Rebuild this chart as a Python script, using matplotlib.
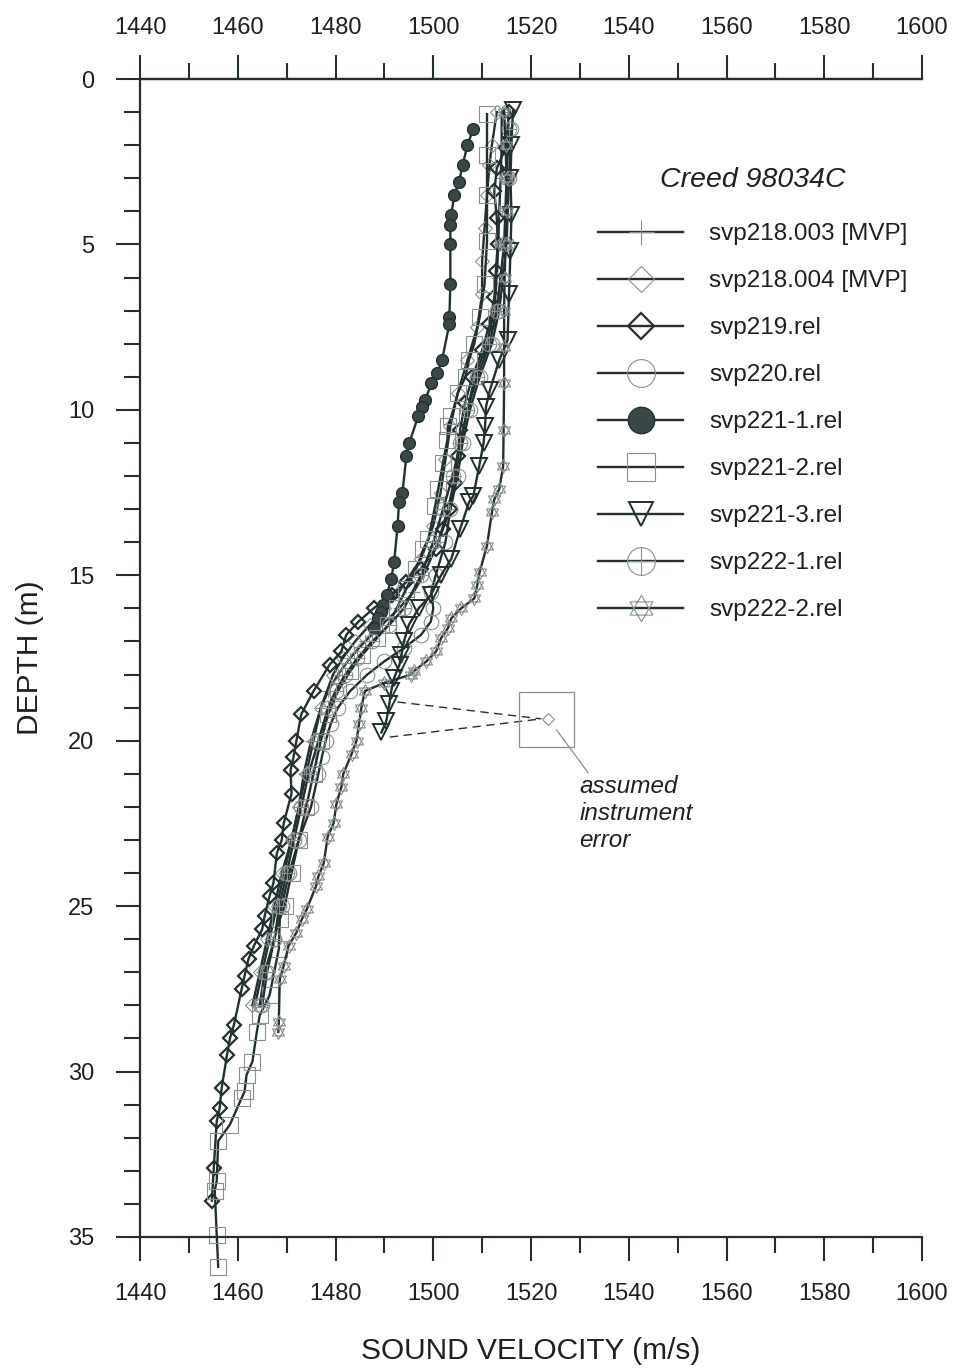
import matplotlib
matplotlib.use('Agg')
import matplotlib.pyplot as plt
from matplotlib.path import Path
from matplotlib.lines import Line2D
from matplotlib.patches import Rectangle
from matplotlib.ticker import MultipleLocator

plt.rcParams['font.family'] = ['Liberation Sans', 'DejaVu Sans']

# ---------------- data (depth m, velocity m/s) ----------------
x_major = [1440, 1460, 1480, 1500, 1520, 1540, 1560, 1580, 1600]
x_minor = [1450, 1470, 1490, 1510, 1530, 1550, 1570, 1590]

d_218_003 = [1.0, 2.0, 3.0, 4.0, 5.0, 6.0, 7.0, 8.0, 9.0, 10.0, 11.0, 12.0, 13.0, 14.0, 15.0,
             15.5, 16.0, 16.5, 17.0, 17.5, 18.0, 18.5, 19.0, 20.0, 21.0, 22.0, 23.0, 24.0,
             25.0, 26.0, 27.0, 28.0]
v_218_003 = [1514, 1514, 1513.8, 1513.5, 1513.3, 1513, 1512.5, 1511, 1508.5, 1507, 1505.5, 1504.5,
             1503, 1501, 1498, 1496, 1493, 1489.5, 1486, 1483, 1480.5, 1478.5, 1477, 1475,
             1473.5, 1472.5, 1471, 1469.5, 1468, 1466.5, 1465, 1463.5]

d_218_004 = [1.0, 2.0, 2.6, 3.5, 4.5, 5.5, 6.5, 7.5, 8.5, 9.5, 10.5, 11.5, 12.5, 13.5, 14.5,
             15.5, 16.0, 16.5, 17.0, 17.5, 18.0, 19.0, 20.0, 21.0, 22.0, 23.0, 24.0, 25.0,
             26.0, 27.0, 28.0]
v_218_004 = [1513, 1512, 1511.5, 1511, 1510.5, 1510, 1510, 1509, 1507, 1505, 1503.5, 1502.5,
             1501.5, 1500, 1497.5, 1493, 1490, 1487, 1484, 1481.5, 1479.5, 1477, 1475.5,
             1474, 1472.5, 1471, 1469, 1467.5, 1466, 1464.5, 1463]

d_219 = [1.0, 2.1, 2.7, 3.4, 4.2, 5.0, 5.8, 6.6, 7.4, 8.2, 9.0, 9.8, 10.6, 11.4, 12.2, 13.0,
         13.6, 14.2, 14.8, 15.2, 15.6, 16.0, 16.4, 16.8, 17.3, 17.7, 18.5, 19.2, 20.0, 20.5,
         20.9, 21.6, 22.5, 23.0, 23.4, 24.3, 24.7, 25.3, 25.7, 26.2, 26.6, 27.1, 27.5, 28.6,
         29.0, 29.5, 30.5, 31.1, 31.5, 32.9, 33.9]
v_219 = [1515.5, 1514.8, 1513, 1512.5, 1513, 1513.2, 1512.8, 1512.5, 1511.5, 1510, 1508,
         1506.5, 1505.5, 1505, 1504.5, 1503.5, 1502, 1500.5, 1497.5, 1494.5, 1491.5, 1487.8,
         1484.7, 1482.2, 1481.2, 1478.8, 1475.5, 1473, 1472, 1471.4, 1470.8, 1471, 1469.4,
         1469, 1468, 1467.3, 1466.5, 1465.5, 1465, 1463.3, 1462.2, 1461.4, 1460.8, 1459.2,
         1458.4, 1457.8, 1456.7, 1456.3, 1455.7, 1455.1, 1454.7]

d_220 = [1.5, 3.0, 5.0, 7.0, 8.0, 9.0, 10.0, 11.0, 12.0, 13.0, 14.0, 15.0, 15.5, 16.0, 16.4,
         16.8, 17.2, 17.6, 18.0, 18.5, 19.0, 19.5, 20.0, 20.5, 21.0, 22.0, 23.0, 24.0, 25.0,
         26.0, 27.0, 28.0]
v_220 = [1516, 1515.5, 1515, 1513.5, 1512, 1509.5, 1507.5, 1506, 1505, 1503.5, 1502.5, 1500.5,
         1499.6, 1500, 1499.5, 1497.5, 1494, 1490, 1486.5, 1483, 1480.5, 1479, 1478, 1477.2,
         1476.5, 1475, 1472.5, 1470.5, 1469, 1467.5, 1465.5, 1464.5]

d_221_1 = [1.5, 2.0, 2.6, 3.1, 3.5, 4.1, 4.4, 5.0, 6.2, 7.2, 7.4, 8.5, 8.9, 9.2, 9.7, 9.9, 10.2,
           11.0, 11.4, 12.5, 12.8, 13.5, 14.6, 15.1, 15.6, 15.9, 16.1, 16.3, 16.6]
v_221_1 = [1508.2, 1507, 1506, 1505.3, 1504.3, 1503.7, 1503.5, 1503.5, 1503.5, 1503.3, 1503.3,
           1501.8, 1500.8, 1499.6, 1498.4, 1497.6, 1496.9, 1495.1, 1494.5, 1493.7, 1493,
           1492.7, 1492, 1491.4, 1490.5, 1489.8, 1489.3, 1488.7, 1487.8]

d_221_2 = [1.06, 2.3, 3.5, 4.9, 6.2, 7.2, 8.0, 8.5, 9.0, 9.5, 10.2, 10.5, 10.9, 11.6, 12.4, 12.9,
           13.9, 14.2, 14.8, 15.4, 16.0, 16.5, 16.9, 17.4, 17.9, 18.5, 19.2, 20.0, 21.0, 22.0,
           23.0, 24.0, 25.0, 25.4, 26.3, 27.7, 28.3, 28.8, 29.7, 30.1, 30.6, 30.8, 31.6, 32.1,
           33.3, 33.6, 34.95, 35.9]
v_221_2 = [1511, 1511, 1511, 1511, 1510.5, 1509.5, 1508.4, 1507.3, 1506.6, 1505, 1503.7, 1503,
           1502.9, 1502, 1501, 1500.4, 1499, 1498, 1496.5, 1494.5, 1492.5, 1490.8, 1488.5,
           1485.5, 1483, 1480.5, 1478.5, 1477, 1475.5, 1474, 1472.5, 1471, 1469.6, 1468.6,
           1468.4, 1466.5, 1464.5, 1463.9, 1463, 1461.8, 1461.4, 1460.8, 1458.4, 1456,
           1455.7, 1455.3, 1455.7, 1456]

d_221_3 = [0.95, 2.0, 3.0, 4.1, 5.2, 6.5, 7.9, 8.5, 9.4, 9.9, 10.5, 11.0, 11.7, 12.6, 12.8, 13.6,
           14.5, 15.0, 15.6, 16.0, 16.5, 17.0, 17.4, 17.7, 18.1, 18.5, 18.9, 19.4, 19.75]
v_221_3 = [1516.3, 1516, 1515.8, 1516, 1515.8, 1515.5, 1515.2, 1513.5, 1511.6, 1510.8, 1510.6,
           1510.3, 1509.4, 1508.2, 1507.3, 1505.5, 1503.7, 1501.6, 1499.5, 1497, 1495, 1494,
           1493.5, 1493.1, 1492, 1491.4, 1491.0, 1490.4, 1489.4]

d_222_1 = [1.5, 3.0, 5.0, 7.0, 8.0, 9.0, 10.0, 11.0, 12.0, 13.0, 14.0, 15.0, 16.0, 16.5, 17.0,
           17.5, 18.0, 18.5, 19.0, 20.0, 21.0, 22.0, 23.0, 24.0, 25.0, 26.0, 27.0, 28.0]
v_222_1 = [1515.5, 1515, 1514.5, 1513, 1511.5, 1509, 1507, 1505.5, 1504, 1502, 1500, 1497.5,
           1494, 1491, 1487.5, 1484.5, 1482, 1480, 1478.5, 1476.5, 1474.5, 1473, 1471.5,
           1470, 1468.5, 1467.5, 1466, 1465]

d_222_2 = [1.0, 2.0, 3.0, 4.0, 5.0, 6.0, 7.0, 8.1, 9.2, 10.6, 11.7, 12.4, 12.7, 13.1, 14.1, 14.9,
           15.3, 15.7, 16.0, 16.3, 16.6, 16.9, 17.3, 17.6, 17.9, 18.0, 18.25, 18.5, 19.0, 19.5,
           20.0, 20.4, 21.0, 21.4, 21.9, 22.5, 22.9, 23.7, 24.1, 24.4, 25.1, 25.4, 25.8, 26.2,
           26.8, 27.2, 28.5, 28.8]
v_222_2 = [1514.5, 1514.8, 1515, 1515, 1514.8, 1514.6, 1514.5, 1514.5, 1514.5, 1514.4, 1514.3,
           1513.5, 1512.5, 1512, 1511, 1509.5, 1509, 1508.4, 1505.7, 1503.7, 1503, 1501.6,
           1500.6, 1498.6, 1496, 1495.5, 1490, 1486, 1485.3, 1484.8, 1484.3, 1483.3, 1481.6,
           1481.2, 1480.2, 1479.6, 1478.4, 1477.6, 1476.5, 1476, 1474.1, 1473.1, 1472, 1470.4,
           1469.4, 1468.6, 1468.4, 1468.3]

labels = ['svp218.003 [MVP]', 'svp218.004 [MVP]', 'svp219.rel', 'svp220.rel', 'svp221-1.rel',
          'svp221-2.rel', 'svp221-3.rel', 'svp222-1.rel', 'svp222-2.rel']

# annotation (assumed instrument error)
err_from_d = [18.83, 19.89]
err_from_v = [1492.7, 1491.1]
err_pt_v, err_pt_d = 1523.4, 19.34

# ---------------- styling ----------------
LINE = '#223030'
GRAY = '#8a8f8f'
TXT = '#1c2121'

circ_plus = Path.make_compound_path(
    Path.unit_circle(),
    Path([(-1, 0), (1, 0)], [Path.MOVETO, Path.LINETO]),
    Path([(0, -1), (0, 1)], [Path.MOVETO, Path.LINETO]))
tri_up = [(0, 1), (-0.866, -0.5), (0.866, -0.5), (0, 1)]
tri_dn = [(0, -1), (-0.866, 0.5), (0.866, 0.5), (0, -1)]
star_david = Path(tri_up + tri_dn,
                  [Path.MOVETO, Path.LINETO, Path.LINETO, Path.CLOSEPOLY] * 2)

# (marker, plot ms, legend ms, facecolor, edgecolor, mew)
styles = [
    ('+', 9, 18, 'none', GRAY, 0.8),
    ('D', 7.0, 13.5, 'none', GRAY, 0.8),
    ('D', 7.0, 13.5, 'none', LINE, 1.6),
    ('o', 10.5, 20, 'none', GRAY, 0.8),
    ('o', 8.5, 19, '#3b4747', LINE, 1.0),
    ('s', 11, 20, 'none', GRAY, 0.8),
    ('v', 11, 17, 'none', LINE, 1.4),
    (circ_plus, 10.5, 20, 'none', GRAY, 0.8),
    (star_david, 10, 19, 'none', GRAY, 0.8),
]
series = [(d_218_003, v_218_003), (d_218_004, v_218_004), (d_219, v_219), (d_220, v_220),
          (d_221_1, v_221_1), (d_221_2, v_221_2), (d_221_3, v_221_3), (d_222_1, v_222_1),
          (d_222_2, v_222_2)]

fig = plt.figure(figsize=(9.58, 13.68), dpi=100)
L, R, T, B = 140, 922, 79, 1237
ax = fig.add_axes([L / 958, 1 - B / 1368, (R - L) / 958, (B - T) / 1368])

plot_order = [0, 1, 3, 7, 8, 5, 6, 2, 4]
for i in plot_order:
    d, v = series[i]
    m, ms, _, fc, ec, mew = styles[i]
    ax.plot(v, d, color=LINE, lw=1.7, marker=m, ms=ms, mfc=fc, mec=ec, mew=mew,
            clip_on=False, zorder=2 + i * 0.1)

# annotation
for vv, dd in zip(err_from_v, err_from_d):
    ax.plot([vv, err_pt_v - 1.3], [dd, err_pt_d], ls=(0, (6, 4)), color=LINE, lw=1.0, zorder=3)
ax.plot([err_pt_v], [err_pt_d], marker='D', ms=6, mfc='white', mec=GRAY, mew=0.8, zorder=4)
ax.add_patch(Rectangle((1517.6, 18.52), 11.1, 1.67, fill=False, ec=GRAY, lw=0.9, zorder=3))
ax.plot([1525.2, 1531.7], [19.67, 20.97], color=GRAY, lw=0.9, zorder=3)
ax.text(1529.9, 21.05, 'assumed\ninstrument\nerror', fontsize=17.5, style='italic',
        color=TXT, va='top', ha='left', linespacing=1.22)

# axes
ax.set_xlim(1440, 1600)
ax.set_ylim(35, 0)
ax.set_xticks(x_major)
ax.set_xticks(x_minor, minor=True)
ax.yaxis.set_major_locator(MultipleLocator(5))
ax.yaxis.set_minor_locator(MultipleLocator(1))
ax.tick_params(axis='x', which='both', top=False, bottom=True, labeltop=False,
               labelbottom=True, direction='out', color=LINE)
ax.tick_params(axis='y', which='both', left=True, right=False, direction='out', color=LINE)
ax.tick_params(which='major', length=17, width=1.5, pad=16, labelsize=17, labelcolor=TXT)
ax.tick_params(which='minor', length=11.5, width=1.5)
ax.spines['right'].set_visible(False)
for s in ['left', 'top', 'bottom']:
    ax.spines[s].set_linewidth(1.6)
    ax.spines[s].set_color(LINE)

# top velocity axis (same scale)
top = ax.secondary_xaxis('top')
top.set_xticks(x_major)
top.set_xticks(x_minor, minor=True)
top.tick_params(which='both', direction='out', color=LINE)
top.tick_params(which='major', length=17, width=1.5, pad=11.5, labelsize=17, labelcolor=TXT)
top.tick_params(which='minor', length=11.5, width=1.5)
top.spines['top'].set_linewidth(1.6)
top.spines['top'].set_color(LINE)

ax.set_xlabel('SOUND VELOCITY (m/s)', fontsize=21.5, color=TXT, labelpad=23)
ax.set_ylabel('DEPTH (m)', fontsize=21.5, color=TXT, labelpad=17)

# legend
handles = []
for i in range(9):
    m, _, lms, fc, ec, mew = styles[i]
    handles.append(Line2D([0], [0], color=LINE, lw=1.7, marker=m, ms=lms, mfc=fc, mec=ec,
                          mew=mew))
leg = ax.legend(handles, labels, title='Creed 98034C', loc='upper left',
                bbox_to_anchor=(598 / 958, 1 - 167 / 1368), bbox_transform=fig.transFigure,
                frameon=False, fontsize=17.5, handlelength=3.5, handletextpad=1.07,
                labelspacing=1.03, borderpad=0, borderaxespad=0,
                title_fontproperties={'style': 'italic', 'size': 20.5})
leg._legend_box.sep = 1.03 * 17.5 + 3.6
for t in leg.get_texts():
    t.set_color(TXT)
leg.get_title().set_color(TXT)

fig.savefig('out.png', dpi=100, facecolor='white')
